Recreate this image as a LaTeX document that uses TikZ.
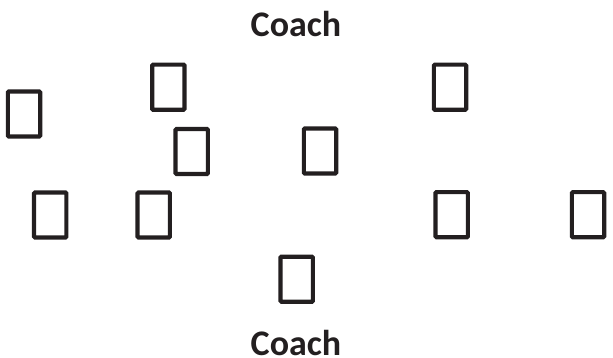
\documentclass[tikz,border=0pt]{standalone}
\usepackage{fontspec}
\setmainfont{Carlito}
\usetikzlibrary{positioning}
\definecolor{ink}{HTML}{231F20}

\begin{document}
\begin{tikzpicture}[x=1pt, y=-1pt,
  player/.style={draw=ink, line width=4.2pt, rounded corners=1pt,
    minimum width=32.3pt, minimum height=45.1pt, inner sep=0pt},
  coach/.style={text=ink, anchor=base, font=\fontsize{36}{43}\selectfont\bfseries}]
  \useasboundingbox (0,0) rectangle (613,358);
  % Coaches
  \node[coach] (coachtop) at (296, 36.7) {Coach};
  \node[coach] (coachbot) at (296, 355) {Coach};
  % Upper players
  \node[player] (p1) at (24, 114) {};
  \node[player] (p2) at (168.3, 87.2) {};
  \node[player] (p3) at (450, 87.2) {};
  \node[player] (p4) at (191.7, 151.5) {};
  \node[player] (p5) at (320, 151) {};
  % Lower players
  \node[player] (p6) at (50.2, 215) {};
  \node[player] (p7) at (153.7, 215) {};
  \node[player] (p8) at (451.7, 214.7) {};
  \node[player] (p9) at (588, 214.7) {};
  \node[player] (p10) at (296.7, 279.2) {};
\end{tikzpicture}
\end{document}
